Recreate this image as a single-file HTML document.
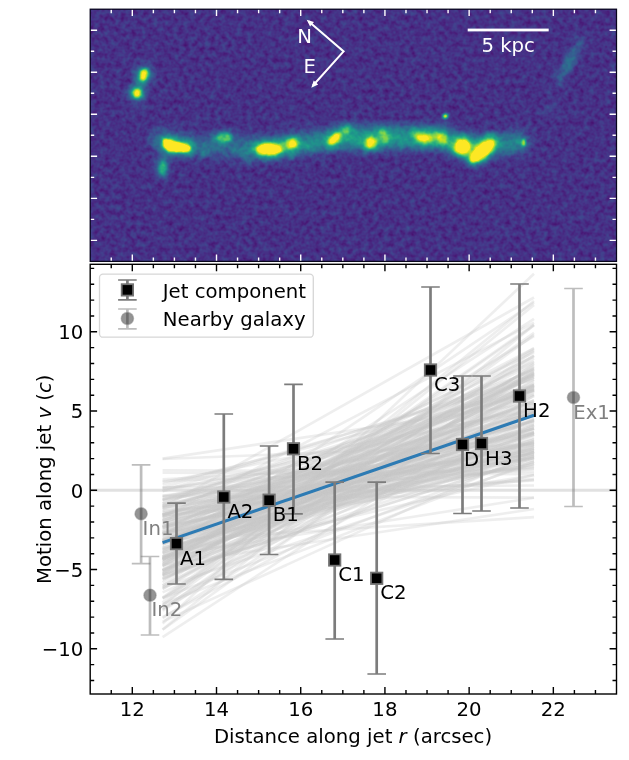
<!DOCTYPE html>
<html><head><meta charset="utf-8"><title>Jet motion</title>
<style>html,body{margin:0;padding:0;background:#fff}svg{display:block}text{font-family:"DejaVu Sans","Liberation Sans",sans-serif}</style></head>
<body>
<svg width="629" height="760" viewBox="0 0 629 760" font-size="19.7">
<rect width="629" height="760" fill="#fff"/>
<defs>
<filter id="cmap" x="0" y="0" width="100%" height="100%" filterUnits="objectBoundingBox" color-interpolation-filters="sRGB">
<feTurbulence type="fractalNoise" baseFrequency="0.19" numOctaves="2" seed="7" result="t"/>
<feColorMatrix in="t" type="matrix" values="1 0 0 0 0  1 0 0 0 0  1 0 0 0 0  0 0 0 0 1" result="n"/>
<feComposite in="SourceGraphic" in2="n" operator="arithmetic" k1="0" k2="1" k3="0.24" k4="0.02" result="s"/>
<feComponentTransfer in="s"><feFuncR type="table" tableValues="0.267 0.277 0.282 0.283 0.279 0.271 0.259 0.245 0.230 0.214 0.199 0.186 0.173 0.161 0.149 0.138 0.128 0.121 0.121 0.132 0.158 0.197 0.246 0.304 0.369 0.440 0.516 0.596 0.678 0.762 0.846 0.926 0.993"/><feFuncG type="table" tableValues="0.005 0.050 0.095 0.136 0.175 0.214 0.252 0.288 0.322 0.356 0.388 0.419 0.449 0.479 0.508 0.537 0.567 0.596 0.626 0.655 0.684 0.712 0.739 0.765 0.789 0.811 0.831 0.849 0.864 0.876 0.887 0.897 0.906"/><feFuncB type="table" tableValues="0.380 0.423 0.460 0.492 0.518 0.538 0.552 0.560 0.565 0.566 0.566 0.564 0.561 0.558 0.557 0.555 0.551 0.544 0.533 0.520 0.502 0.479 0.452 0.420 0.383 0.341 0.294 0.243 0.190 0.137 0.100 0.104 0.144"/><feFuncA type="linear" slope="0" intercept="1"/></feComponentTransfer>
</filter>
<filter id="b1" filterUnits="userSpaceOnUse" x="60" y="0" width="580" height="280" color-interpolation-filters="sRGB"><feGaussianBlur stdDeviation="1"/></filter>
<filter id="b1_5" filterUnits="userSpaceOnUse" x="60" y="0" width="580" height="280" color-interpolation-filters="sRGB"><feGaussianBlur stdDeviation="1.5"/></filter>
<filter id="b2" filterUnits="userSpaceOnUse" x="60" y="0" width="580" height="280" color-interpolation-filters="sRGB"><feGaussianBlur stdDeviation="2"/></filter>
<filter id="b3" filterUnits="userSpaceOnUse" x="60" y="0" width="580" height="280" color-interpolation-filters="sRGB"><feGaussianBlur stdDeviation="3"/></filter>
<filter id="b4" filterUnits="userSpaceOnUse" x="60" y="0" width="580" height="280" color-interpolation-filters="sRGB"><feGaussianBlur stdDeviation="4"/></filter>
<filter id="b6" filterUnits="userSpaceOnUse" x="60" y="0" width="580" height="280" color-interpolation-filters="sRGB"><feGaussianBlur stdDeviation="6"/></filter>
<filter id="b8" filterUnits="userSpaceOnUse" x="60" y="0" width="580" height="280" color-interpolation-filters="sRGB"><feGaussianBlur stdDeviation="8"/></filter>
<clipPath id="imclip"><rect x="90.2" y="9.2" width="526.3" height="252.2"/></clipPath>
<clipPath id="plclip"><rect x="90.2" y="264.3" width="526.3" height="429.7"/></clipPath>
</defs>
<g clip-path="url(#imclip)">
<g filter="url(#cmap)">
<rect x="88.2" y="7.199999999999999" width="530.3" height="256.2" fill="#000"/>
<g filter="url(#b6)">
<path d="M160 141 L200 146 L260 148 L300 143 L340 138 L380 137 L430 137 L470 145 L490 145 L522 142" fill="none" stroke="#fff" stroke-opacity="0.10" stroke-width="24" stroke-linecap="round" stroke-linejoin="round"/>
</g>
<g filter="url(#b4)" fill="none" stroke="#fff" stroke-linejoin="round">
<path d="M152 136 L166 141 L200 146 L250 148" stroke-opacity="0.10" stroke-width="15"/>
<path d="M246 148 L270 149 L300 144 L340 139 L356 139" stroke-opacity="0.24" stroke-width="17"/>
<path d="M350 139 L380 139 L430 138 L462 144" stroke-opacity="0.27" stroke-width="19"/>
<path d="M350 129 L400 131 L445 130" stroke-opacity="0.1" stroke-width="10" stroke-linecap="round"/>
<path d="M458 146 L490 145 L524 142" stroke-opacity="0.26" stroke-width="16"/>
</g><g filter="url(#b3)">
<path d="M581 40 L568.7 63.4 L558 82" fill="none" stroke="#fff" stroke-opacity="0.15" stroke-width="8" stroke-linecap="round"/>
<path d="M573 54 L565 71" fill="none" stroke="#fff" stroke-opacity="0.2" stroke-width="6" stroke-linecap="round"/>
</g><g filter="url(#b4)">
<ellipse cx="550.6" cy="109" rx="7" ry="4" fill="#fff" fill-opacity="0.11" transform="rotate(-60 550.6 109)"/>
<ellipse cx="497" cy="226" rx="3" ry="8" fill="#fff" fill-opacity="0.035"/>
<ellipse cx="139.5" cy="85" rx="12" ry="4" fill="#fff" fill-opacity="0.12" transform="rotate(-70 139.5 85)"/>
<ellipse cx="135" cy="104" rx="7" ry="4" fill="#fff" fill-opacity="0.08" transform="rotate(80 135 104)"/>
<ellipse cx="164" cy="160" rx="7" ry="4" fill="#fff" fill-opacity="0.1" transform="rotate(80 164 160)"/>
</g>
<g filter="url(#b2)">
<ellipse cx="203.1" cy="154.3" rx="4.3" ry="2.1" fill="#fff" fill-opacity="0.19" transform="rotate(-28 203.1 154.3)"/>
<ellipse cx="181.8" cy="143.0" rx="5.3" ry="3.2" fill="#fff" fill-opacity="0.14" transform="rotate(-10 181.8 143.0)"/>
<ellipse cx="398.6" cy="137.8" rx="2.9" ry="3.6" fill="#fff" fill-opacity="0.14" transform="rotate(13 398.6 137.8)"/>
<ellipse cx="454.9" cy="147.1" rx="5.4" ry="2.4" fill="#fff" fill-opacity="0.13" transform="rotate(4 454.9 147.1)"/>
<ellipse cx="285.3" cy="141.0" rx="3.2" ry="3.6" fill="#fff" fill-opacity="0.09" transform="rotate(29 285.3 141.0)"/>
<ellipse cx="326.9" cy="139.2" rx="2.7" ry="3.8" fill="#fff" fill-opacity="0.09" transform="rotate(-5 326.9 139.2)"/>
<ellipse cx="402.5" cy="144.8" rx="5.2" ry="2.4" fill="#fff" fill-opacity="0.1" transform="rotate(-37 402.5 144.8)"/>
<ellipse cx="282.5" cy="138.5" rx="5.2" ry="3.4" fill="#fff" fill-opacity="0.07" transform="rotate(-12 282.5 138.5)"/>
<ellipse cx="214.5" cy="142.3" rx="3.9" ry="3.4" fill="#fff" fill-opacity="0.07" transform="rotate(-35 214.5 142.3)"/>
<ellipse cx="465.6" cy="137.1" rx="3.4" ry="2.6" fill="#fff" fill-opacity="0.09" transform="rotate(-32 465.6 137.1)"/>
<ellipse cx="165.0" cy="145.3" rx="3.9" ry="2.3" fill="#fff" fill-opacity="0.1" transform="rotate(19 165.0 145.3)"/>
<ellipse cx="178.7" cy="146.5" rx="5.2" ry="2.1" fill="#fff" fill-opacity="0.09" transform="rotate(24 178.7 146.5)"/>
<ellipse cx="190.0" cy="143.5" rx="3.4" ry="3.5" fill="#fff" fill-opacity="0.18"/>
<ellipse cx="235.5" cy="150.6" rx="3.3" ry="4.0" fill="#fff" fill-opacity="0.11" transform="rotate(35 235.5 150.6)"/>
<ellipse cx="315.6" cy="149.9" rx="4.7" ry="2.1" fill="#fff" fill-opacity="0.12" transform="rotate(-34 315.6 149.9)"/>
<ellipse cx="245.7" cy="160.4" rx="4.7" ry="3.1" fill="#fff" fill-opacity="0.16" transform="rotate(12 245.7 160.4)"/>
<ellipse cx="441.9" cy="135.9" rx="2.9" ry="3.3" fill="#fff" fill-opacity="0.13" transform="rotate(-28 441.9 135.9)"/>
<ellipse cx="443.8" cy="142.6" rx="4.8" ry="2.1" fill="#fff" fill-opacity="0.09" transform="rotate(-11 443.8 142.6)"/>
<ellipse cx="521.6" cy="141.1" rx="3.2" ry="2.7" fill="#fff" fill-opacity="0.18" transform="rotate(-35 521.6 141.1)"/>
<ellipse cx="388.9" cy="136.1" rx="4.0" ry="2.2" fill="#fff" fill-opacity="0.1" transform="rotate(8 388.9 136.1)"/>
<ellipse cx="170.1" cy="145.2" rx="4.2" ry="3.3" fill="#fff" fill-opacity="0.15" transform="rotate(-14 170.1 145.2)"/>
<ellipse cx="284.9" cy="146.0" rx="3.4" ry="2.8" fill="#fff" fill-opacity="0.09" transform="rotate(33 284.9 146.0)"/>
<ellipse cx="187.5" cy="148.9" rx="5.4" ry="3.8" fill="#fff" fill-opacity="0.08" transform="rotate(16 187.5 148.9)"/>
<ellipse cx="451.1" cy="148.3" rx="2.9" ry="2.9" fill="#fff" fill-opacity="0.17" transform="rotate(-36 451.1 148.3)"/>
<ellipse cx="419.0" cy="134.9" rx="4.8" ry="2.5" fill="#fff" fill-opacity="0.1" transform="rotate(23 419.0 134.9)"/>
<ellipse cx="206.5" cy="147.7" rx="4.0" ry="2.6" fill="#fff" fill-opacity="0.15" transform="rotate(8 206.5 147.7)"/>
<ellipse cx="243.8" cy="152.7" rx="3.6" ry="3.5" fill="#fff" fill-opacity="0.17" transform="rotate(-16 243.8 152.7)"/>
<ellipse cx="307.9" cy="146.4" rx="4.5" ry="3.0" fill="#fff" fill-opacity="0.2" transform="rotate(-19 307.9 146.4)"/>
<ellipse cx="191.2" cy="151.5" rx="4.1" ry="2.1" fill="#fff" fill-opacity="0.17" transform="rotate(-27 191.2 151.5)"/>
<ellipse cx="442.9" cy="142.4" rx="5.2" ry="3.5" fill="#fff" fill-opacity="0.15" transform="rotate(-16 442.9 142.4)"/>
<ellipse cx="280.5" cy="148.8" rx="5.1" ry="3.4" fill="#fff" fill-opacity="0.14" transform="rotate(19 280.5 148.8)"/>
<ellipse cx="442.6" cy="136.1" rx="4.2" ry="2.1" fill="#fff" fill-opacity="0.18" transform="rotate(4 442.6 136.1)"/>
<ellipse cx="414.2" cy="133.2" rx="4.0" ry="3.8" fill="#fff" fill-opacity="0.18" transform="rotate(-31 414.2 133.2)"/>
<ellipse cx="291.9" cy="155.8" rx="4.4" ry="2.9" fill="#fff" fill-opacity="0.18" transform="rotate(-5 291.9 155.8)"/>
<ellipse cx="206.4" cy="152.3" rx="3.7" ry="3.1" fill="#fff" fill-opacity="0.09"/>
<ellipse cx="343.4" cy="141.0" rx="2.5" ry="2.1" fill="#fff" fill-opacity="0.2" transform="rotate(-3 343.4 141.0)"/>
<ellipse cx="172.2" cy="135.4" rx="4.1" ry="2.2" fill="#fff" fill-opacity="0.1" transform="rotate(-6 172.2 135.4)"/>
<ellipse cx="417.4" cy="135.5" rx="3.4" ry="2.5" fill="#fff" fill-opacity="0.17" transform="rotate(29 417.4 135.5)"/>
<ellipse cx="315.6" cy="137.9" rx="4.7" ry="3.9" fill="#fff" fill-opacity="0.09" transform="rotate(-33 315.6 137.9)"/>
<ellipse cx="288.6" cy="145.3" rx="2.7" ry="2.1" fill="#fff" fill-opacity="0.12" transform="rotate(-22 288.6 145.3)"/>
<ellipse cx="426.6" cy="135.5" rx="2.6" ry="2.1" fill="#fff" fill-opacity="0.18" transform="rotate(-3 426.6 135.5)"/>
<ellipse cx="490.9" cy="136.1" rx="5.2" ry="3.9" fill="#fff" fill-opacity="0.17" transform="rotate(-7 490.9 136.1)"/>
<ellipse cx="289.7" cy="142.8" rx="4.2" ry="2.2" fill="#fff" fill-opacity="0.18" transform="rotate(13 289.7 142.8)"/>
<ellipse cx="491.0" cy="149.3" rx="2.9" ry="3.8" fill="#fff" fill-opacity="0.2" transform="rotate(29 491.0 149.3)"/>
<ellipse cx="373.4" cy="142.6" rx="3.6" ry="2.4" fill="#fff" fill-opacity="0.16" transform="rotate(-16 373.4 142.6)"/>
<ellipse cx="274.9" cy="150.2" rx="4.0" ry="2.9" fill="#fff" fill-opacity="0.09" transform="rotate(37 274.9 150.2)"/>
</g>
<g filter="url(#b3)">
<ellipse cx="143.6" cy="75" rx="10.0" ry="8.0" fill="#fff" fill-opacity="0.36" transform="rotate(-68 143.6 75)"/>
<ellipse cx="137" cy="93" rx="8.4" ry="8.2" fill="#fff" fill-opacity="0.36"/>
<ellipse cx="162.5" cy="168" rx="11" ry="7.3" fill="#fff" fill-opacity="0.195" transform="rotate(88 162.5 168)"/>
<ellipse cx="224" cy="137.7" rx="11.5" ry="7.8" fill="#fff" fill-opacity="0.22499999999999998"/>
<ellipse cx="269" cy="149.2" rx="16.4" ry="9.1" fill="#fff" fill-opacity="0.44999999999999996"/>
<ellipse cx="292.5" cy="144" rx="9.8" ry="8.6" fill="#fff" fill-opacity="0.315" transform="rotate(-25 292.5 144)"/>
<ellipse cx="334.5" cy="139" rx="11.5" ry="8.2" fill="#fff" fill-opacity="0.33" transform="rotate(-42 334.5 139)"/>
<ellipse cx="346" cy="129.7" rx="7.4" ry="7.2" fill="#fff" fill-opacity="0.22499999999999998"/>
<ellipse cx="370.5" cy="143" rx="9.6" ry="8.8" fill="#fff" fill-opacity="0.33" transform="rotate(-35 370.5 143)"/>
<ellipse cx="384.8" cy="139.1" rx="7.6" ry="7.3" fill="#fff" fill-opacity="0.18"/>
<ellipse cx="383" cy="132.4" rx="7.2" ry="7" fill="#fff" fill-opacity="0.165"/>
<ellipse cx="424" cy="138.2" rx="12.5" ry="8.3" fill="#fff" fill-opacity="0.3" transform="rotate(5 424 138.2)"/>
<ellipse cx="437.3" cy="135.6" rx="8" ry="7.2" fill="#fff" fill-opacity="0.18"/>
<ellipse cx="443" cy="139.2" rx="8.8" ry="7.6" fill="#fff" fill-opacity="0.216"/>
<ellipse cx="462.4" cy="146.8" rx="11.0" ry="11.0" fill="#fff" fill-opacity="0.48"/>
<ellipse cx="482" cy="151" rx="19.3" ry="10.0" fill="#fff" fill-opacity="0.48" transform="rotate(-42 482 151)"/>
<path d="M164.5 139.8L189 146.6L189.6 149L186.5 151L168 150.2L164.2 145Z" fill="#fff" stroke="#fff" stroke-width="9" stroke-linejoin="round" opacity="0.4"/>
</g>
<g filter="url(#b1_5)">
<ellipse cx="143.6" cy="75" rx="6.6" ry="4.6" fill="#fff" fill-opacity="0.66" transform="rotate(-68 143.6 75)"/>
<ellipse cx="137" cy="93" rx="5.0" ry="4.800000000000001" fill="#fff" fill-opacity="0.66"/>
<ellipse cx="162.5" cy="168" rx="7.6" ry="3.9" fill="#fff" fill-opacity="0.35750000000000004" transform="rotate(88 162.5 168)"/>
<ellipse cx="224" cy="137.7" rx="8.1" ry="4.4" fill="#fff" fill-opacity="0.41250000000000003"/>
<ellipse cx="269" cy="149.2" rx="13.0" ry="5.699999999999999" fill="#fff" fill-opacity="0.8250000000000001"/>
<ellipse cx="292.5" cy="144" rx="6.4" ry="5.2" fill="#fff" fill-opacity="0.5775000000000001" transform="rotate(-25 292.5 144)"/>
<ellipse cx="334.5" cy="139" rx="8.1" ry="4.800000000000001" fill="#fff" fill-opacity="0.6050000000000001" transform="rotate(-42 334.5 139)"/>
<ellipse cx="346" cy="129.7" rx="4.0" ry="3.8000000000000003" fill="#fff" fill-opacity="0.41250000000000003"/>
<ellipse cx="370.5" cy="143" rx="6.199999999999999" ry="5.4" fill="#fff" fill-opacity="0.6050000000000001" transform="rotate(-35 370.5 143)"/>
<ellipse cx="384.8" cy="139.1" rx="4.2" ry="3.9" fill="#fff" fill-opacity="0.33"/>
<ellipse cx="383" cy="132.4" rx="3.8000000000000003" ry="3.6" fill="#fff" fill-opacity="0.30250000000000005"/>
<ellipse cx="424" cy="138.2" rx="9.1" ry="4.9" fill="#fff" fill-opacity="0.55" transform="rotate(5 424 138.2)"/>
<ellipse cx="437.3" cy="135.6" rx="4.6" ry="3.8000000000000003" fill="#fff" fill-opacity="0.33"/>
<ellipse cx="443" cy="139.2" rx="5.4" ry="4.2" fill="#fff" fill-opacity="0.396"/>
<ellipse cx="462.4" cy="146.8" rx="7.6" ry="7.6" fill="#fff" fill-opacity="0.8800000000000001"/>
<ellipse cx="482" cy="151" rx="15.9" ry="6.6" fill="#fff" fill-opacity="0.8800000000000001" transform="rotate(-42 482 151)"/>
<ellipse cx="445.4" cy="116.2" rx="3.4" ry="3.4" fill="#fff" fill-opacity="0.16"/>
<ellipse cx="523.5" cy="142.4" rx="3" ry="5" fill="#fff" fill-opacity="0.15"/>
<path d="M164.5 139.8L189 146.6L189.6 149L186.5 151L168 150.2L164.2 145Z" fill="#fff" stroke="#fff" stroke-width="3" stroke-linejoin="round" opacity="0.7"/>
</g>
<g filter="url(#b1)">
<ellipse cx="143.6" cy="75" rx="3.8" ry="1.8" fill="#fff" fill-opacity="0.8999999999999999" transform="rotate(-68 143.6 75)"/>
<ellipse cx="137" cy="93" rx="2.2" ry="2.0" fill="#fff" fill-opacity="0.8999999999999999"/>
<ellipse cx="269" cy="149.2" rx="10.200000000000001" ry="2.8999999999999995" fill="#fff" fill-opacity="1"/>
<ellipse cx="292.5" cy="144" rx="3.5999999999999996" ry="2.4000000000000004" fill="#fff" fill-opacity="0.7875000000000001" transform="rotate(-25 292.5 144)"/>
<ellipse cx="334.5" cy="139" rx="5.3" ry="2.0" fill="#fff" fill-opacity="0.8250000000000001" transform="rotate(-42 334.5 139)"/>
<ellipse cx="370.5" cy="143" rx="3.3999999999999995" ry="2.5999999999999996" fill="#fff" fill-opacity="0.8250000000000001" transform="rotate(-35 370.5 143)"/>
<ellipse cx="424" cy="138.2" rx="6.3" ry="2.0999999999999996" fill="#fff" fill-opacity="0.75" transform="rotate(5 424 138.2)"/>
<ellipse cx="462.4" cy="146.8" rx="4.8" ry="4.8" fill="#fff" fill-opacity="1"/>
<ellipse cx="482" cy="151" rx="13.100000000000001" ry="3.8" fill="#fff" fill-opacity="1" transform="rotate(-42 482 151)"/>
<ellipse cx="445.4" cy="116.2" rx="2.3" ry="2.3" fill="#fff" fill-opacity="0.9"/>
<ellipse cx="523.5" cy="142.4" rx="1.7" ry="3.5" fill="#fff" fill-opacity="0.62"/>
<path d="M164.5 139.8L189 146.6L189.6 149L186.5 151L168 150.2L164.2 145Z" fill="#fff" stroke="#fff" stroke-width="0.5" stroke-linejoin="round"/>
</g>
</g>
</g>
<path d="M111.25 9.2v4.0M111.25 261.4v-4.0M132.30 9.2v6.9M132.30 261.4v-6.9M153.36 9.2v4.0M153.36 261.4v-4.0M174.41 9.2v4.0M174.41 261.4v-4.0M195.46 9.2v4.0M195.46 261.4v-4.0M216.51 9.2v6.9M216.51 261.4v-6.9M237.56 9.2v4.0M237.56 261.4v-4.0M258.62 9.2v4.0M258.62 261.4v-4.0M279.67 9.2v4.0M279.67 261.4v-4.0M300.72 9.2v6.9M300.72 261.4v-6.9M321.77 9.2v4.0M321.77 261.4v-4.0M342.82 9.2v4.0M342.82 261.4v-4.0M363.88 9.2v4.0M363.88 261.4v-4.0M384.93 9.2v6.9M384.93 261.4v-6.9M405.98 9.2v4.0M405.98 261.4v-4.0M427.03 9.2v4.0M427.03 261.4v-4.0M448.08 9.2v4.0M448.08 261.4v-4.0M469.14 9.2v6.9M469.14 261.4v-6.9M490.19 9.2v4.0M490.19 261.4v-4.0M511.24 9.2v4.0M511.24 261.4v-4.0M532.29 9.2v4.0M532.29 261.4v-4.0M553.34 9.2v6.9M553.34 261.4v-6.9M574.40 9.2v4.0M574.40 261.4v-4.0M595.45 9.2v4.0M595.45 261.4v-4.0M90.2 30.22h6.9M616.5 30.22h-6.9M90.2 51.23h4.0M616.5 51.23h-4.0M90.2 72.25h6.9M616.5 72.25h-6.9M90.2 93.27h4.0M616.5 93.27h-4.0M90.2 114.28h6.9M616.5 114.28h-6.9M90.2 135.30h4.0M616.5 135.30h-4.0M90.2 156.32h6.9M616.5 156.32h-6.9M90.2 177.33h4.0M616.5 177.33h-4.0M90.2 198.35h6.9M616.5 198.35h-6.9M90.2 219.37h4.0M616.5 219.37h-4.0M90.2 240.38h6.9M616.5 240.38h-6.9" stroke="#fff" stroke-width="1.4" fill="none"/>
<rect x="90.2" y="9.2" width="526.3" height="252.2" fill="none" stroke="#08061c" stroke-width="1.25"/>
<g stroke="#fff" stroke-width="2" fill="none" stroke-linejoin="miter"><path d="M308.5 21.3L343.6 51.4L313 85.5"/></g>
<path d="M306.7 19.8L314.0 22.1L310.1 26.6Z" fill="#fff"/>
<path d="M311.3 87.7L313.7 80.5L318.2 84.5Z" fill="#fff"/>
<text x="297.3" y="42.8" fill="#fff">N</text>
<text x="303.5" y="72.6" fill="#fff">E</text>
<rect x="467.7" y="28.6" width="81" height="2.8" fill="#fff"/>
<text x="508.2" y="52" fill="#fff" text-anchor="middle">5 kpc</text>
<g clip-path="url(#plclip)">
<line x1="90.2" x2="616.5" y1="490.30" y2="490.30" stroke="#808080" stroke-opacity="0.24" stroke-width="3.1"/>
<g stroke="#c6c6c6" stroke-opacity="0.3" stroke-width="2.6" fill="none">
<path d="M162.6 552.0L534.0 302.6"/>
<path d="M162.6 604.0L534.0 461.2"/>
<path d="M162.6 537.8L534.0 400.9"/>
<path d="M162.6 545.5L534.0 439.3"/>
<path d="M162.6 510.6L534.0 478.9"/>
<path d="M162.6 570.6L534.0 389.5"/>
<path d="M162.6 540.5L534.0 517.1"/>
<path d="M162.6 567.3L534.0 394.6"/>
<path d="M162.6 558.3L534.0 437.4"/>
<path d="M162.6 507.4L534.0 297.5"/>
<path d="M162.6 533.6L534.0 415.8"/>
<path d="M162.6 527.6L534.0 452.0"/>
<path d="M162.6 558.3L534.0 408.6"/>
<path d="M162.6 540.7L534.0 450.4"/>
<path d="M162.6 558.3L534.0 446.7"/>
<path d="M162.6 549.9L534.0 425.0"/>
<path d="M162.6 526.5L534.0 412.4"/>
<path d="M162.6 540.6L534.0 429.5"/>
<path d="M162.6 499.3L534.0 424.2"/>
<path d="M162.6 539.8L534.0 428.7"/>
<path d="M162.6 487.5L534.0 485.5"/>
<path d="M162.6 503.2L534.0 390.3"/>
<path d="M162.6 499.3L534.0 444.6"/>
<path d="M162.6 589.1L534.0 379.7"/>
<path d="M162.6 587.3L534.0 366.2"/>
<path d="M162.6 481.0L534.0 468.5"/>
<path d="M162.6 503.6L534.0 370.6"/>
<path d="M162.6 542.8L534.0 428.2"/>
<path d="M162.6 519.8L534.0 456.7"/>
<path d="M162.6 536.8L534.0 373.5"/>
<path d="M162.6 547.8L534.0 452.0"/>
<path d="M162.6 503.3L534.0 480.5"/>
<path d="M162.6 514.7L534.0 408.0"/>
<path d="M162.6 524.1L534.0 410.7"/>
<path d="M162.6 541.8L534.0 411.8"/>
<path d="M162.6 495.8L534.0 443.0"/>
<path d="M162.6 621.6L534.0 451.8"/>
<path d="M162.6 543.3L534.0 364.1"/>
<path d="M162.6 532.7L534.0 475.2"/>
<path d="M162.6 559.8L534.0 475.0"/>
<path d="M162.6 532.2L534.0 415.1"/>
<path d="M162.6 511.3L534.0 421.3"/>
<path d="M162.6 609.0L534.0 350.9"/>
<path d="M162.6 570.2L534.0 432.3"/>
<path d="M162.6 514.9L534.0 449.8"/>
<path d="M162.6 522.0L534.0 444.5"/>
<path d="M162.6 508.6L534.0 390.2"/>
<path d="M162.6 602.4L534.0 301.0"/>
<path d="M162.6 531.6L534.0 419.9"/>
<path d="M162.6 520.6L534.0 389.0"/>
<path d="M162.6 562.0L534.0 400.1"/>
<path d="M162.6 558.9L534.0 439.5"/>
<path d="M162.6 605.3L534.0 305.1"/>
<path d="M162.6 514.7L534.0 422.8"/>
<path d="M162.6 570.1L534.0 390.1"/>
<path d="M162.6 562.3L534.0 428.1"/>
<path d="M162.6 556.4L534.0 386.1"/>
<path d="M162.6 564.8L534.0 509.0"/>
<path d="M162.6 585.6L534.0 325.5"/>
<path d="M162.6 526.6L534.0 411.8"/>
<path d="M162.6 576.3L534.0 452.0"/>
<path d="M162.6 516.0L534.0 446.7"/>
<path d="M162.6 543.0L534.0 462.1"/>
<path d="M162.6 543.1L534.0 377.3"/>
<path d="M162.6 617.2L534.0 418.4"/>
<path d="M162.6 585.3L534.0 404.7"/>
<path d="M162.6 566.1L534.0 349.8"/>
<path d="M162.6 539.7L534.0 362.1"/>
<path d="M162.6 587.2L534.0 463.4"/>
<path d="M162.6 579.3L534.0 392.1"/>
<path d="M162.6 553.3L534.0 385.2"/>
<path d="M162.6 550.7L534.0 434.7"/>
<path d="M162.6 530.8L534.0 352.3"/>
<path d="M162.6 609.4L534.0 387.1"/>
<path d="M162.6 540.5L534.0 400.5"/>
<path d="M162.6 553.9L534.0 452.1"/>
<path d="M162.6 534.5L534.0 356.6"/>
<path d="M162.6 605.3L534.0 334.9"/>
<path d="M162.6 542.9L534.0 433.1"/>
<path d="M162.6 574.6L534.0 458.1"/>
<path d="M162.6 500.8L534.0 386.8"/>
<path d="M162.6 565.7L534.0 348.3"/>
<path d="M162.6 479.2L534.0 460.3"/>
<path d="M162.6 528.2L534.0 377.9"/>
<path d="M162.6 573.3L534.0 358.3"/>
<path d="M162.6 534.0L534.0 457.8"/>
<path d="M162.6 608.0L534.0 369.7"/>
<path d="M162.6 575.5L534.0 411.9"/>
<path d="M162.6 497.4L534.0 406.5"/>
<path d="M162.6 578.3L534.0 440.7"/>
<path d="M162.6 515.5L534.0 479.7"/>
<path d="M162.6 533.2L534.0 443.2"/>
<path d="M162.6 597.6L534.0 332.9"/>
<path d="M162.6 506.0L534.0 434.4"/>
<path d="M162.6 629.7L534.0 363.6"/>
<path d="M162.6 575.1L534.0 458.0"/>
<path d="M162.6 574.1L534.0 374.6"/>
<path d="M162.6 515.6L534.0 390.5"/>
<path d="M162.6 470.3L534.0 471.7"/>
<path d="M162.6 521.5L534.0 431.9"/>
<path d="M162.6 553.3L534.0 416.8"/>
<path d="M162.6 505.8L534.0 448.5"/>
<path d="M162.6 512.5L534.0 466.2"/>
<path d="M162.6 535.1L534.0 384.8"/>
<path d="M162.6 541.3L534.0 456.0"/>
<path d="M162.6 495.9L534.0 469.1"/>
<path d="M162.6 525.8L534.0 442.4"/>
<path d="M162.6 557.8L534.0 368.8"/>
<path d="M162.6 523.7L534.0 428.6"/>
<path d="M162.6 517.4L534.0 322.6"/>
<path d="M162.6 560.1L534.0 318.9"/>
<path d="M162.6 509.2L534.0 385.0"/>
<path d="M162.6 556.2L534.0 497.8"/>
<path d="M162.6 515.7L534.0 466.8"/>
<path d="M162.6 552.5L534.0 432.3"/>
<path d="M162.6 558.7L534.0 368.1"/>
<path d="M162.6 598.0L534.0 455.3"/>
<path d="M162.6 533.6L534.0 369.1"/>
<path d="M162.6 506.5L534.0 409.6"/>
<path d="M162.6 578.2L534.0 433.0"/>
<path d="M162.6 549.6L534.0 454.3"/>
<path d="M162.6 549.3L534.0 445.9"/>
<path d="M162.6 507.7L534.0 458.3"/>
<path d="M162.6 488.1L534.0 454.4"/>
<path d="M162.6 484.5L534.0 389.8"/>
<path d="M162.6 517.3L534.0 457.6"/>
<path d="M162.6 500.3L534.0 432.3"/>
<path d="M162.6 559.6L534.0 385.5"/>
<path d="M162.6 499.8L534.0 384.2"/>
<path d="M162.6 623.5L534.0 273.7"/>
<path d="M162.6 542.4L534.0 348.2"/>
<path d="M162.6 547.7L534.0 461.5"/>
<path d="M162.6 570.7L534.0 388.2"/>
<path d="M162.6 569.7L534.0 420.1"/>
<path d="M162.6 491.2L534.0 407.9"/>
<path d="M162.6 563.6L534.0 355.6"/>
<path d="M162.6 527.7L534.0 449.5"/>
<path d="M162.6 496.2L534.0 497.6"/>
<path d="M162.6 556.8L534.0 373.0"/>
<path d="M162.6 540.1L534.0 453.0"/>
<path d="M162.6 610.7L534.0 372.7"/>
<path d="M162.6 514.0L534.0 428.7"/>
<path d="M162.6 458.6L534.0 403.0"/>
<path d="M162.6 598.1L534.0 355.3"/>
<path d="M162.6 525.8L534.0 464.3"/>
<path d="M162.6 572.1L534.0 434.5"/>
<path d="M162.6 618.1L534.0 382.9"/>
<path d="M162.6 532.8L534.0 402.2"/>
<path d="M162.6 519.9L534.0 402.8"/>
<path d="M162.6 543.4L534.0 413.7"/>
<path d="M162.6 561.6L534.0 374.2"/>
<path d="M162.6 518.0L534.0 441.4"/>
<path d="M162.6 557.9L534.0 388.5"/>
<path d="M162.6 592.4L534.0 425.6"/>
<path d="M162.6 629.4L534.0 325.1"/>
<path d="M162.6 529.5L534.0 426.7"/>
<path d="M162.6 534.6L534.0 464.1"/>
<path d="M162.6 575.4L534.0 396.1"/>
<path d="M162.6 547.9L534.0 448.5"/>
<path d="M162.6 557.1L534.0 412.8"/>
<path d="M162.6 526.4L534.0 394.3"/>
<path d="M162.6 588.6L534.0 375.5"/>
<path d="M162.6 527.4L534.0 442.5"/>
<path d="M162.6 520.4L534.0 403.9"/>
<path d="M162.6 472.7L534.0 474.1"/>
<path d="M162.6 482.1L534.0 410.3"/>
<path d="M162.6 637.2L534.0 395.3"/>
<path d="M162.6 505.2L534.0 421.6"/>
<path d="M162.6 533.3L534.0 450.9"/>
<path d="M162.6 507.6L534.0 454.0"/>
<path d="M162.6 541.9L534.0 374.9"/>
<path d="M162.6 523.0L534.0 387.4"/>
<path d="M162.6 488.9L534.0 433.7"/>
<path d="M162.6 559.5L534.0 385.6"/>
<path d="M162.6 514.5L534.0 372.5"/>
<path d="M162.6 571.8L534.0 391.2"/>
<path d="M162.6 527.5L534.0 441.7"/>
<path d="M162.6 582.2L534.0 324.5"/>
<path d="M162.6 565.9L534.0 412.1"/>
<path d="M162.6 491.0L534.0 375.9"/>
<path d="M162.6 505.6L534.0 413.0"/>
<path d="M162.6 487.6L534.0 379.6"/>
<path d="M162.6 569.9L534.0 381.1"/>
<path d="M162.6 541.7L534.0 435.1"/>
<path d="M162.6 573.3L534.0 367.2"/>
<path d="M162.6 544.2L534.0 377.1"/>
<path d="M162.6 598.6L534.0 371.5"/>
<path d="M162.6 559.7L534.0 374.3"/>
<path d="M162.6 538.9L534.0 420.8"/>
<path d="M162.6 459.0L534.0 444.2"/>
<path d="M162.6 564.4L534.0 419.4"/>
<path d="M162.6 544.6L534.0 361.2"/>
<path d="M162.6 559.4L534.0 425.0"/>
<path d="M162.6 579.6L534.0 414.4"/>
<path d="M162.6 543.8L534.0 448.5"/>
<path d="M162.6 556.3L534.0 455.9"/>
<path d="M162.6 514.0L534.0 445.1"/>
<path d="M162.6 564.4L534.0 336.2"/>
<path d="M162.6 542.0L534.0 407.9"/>
<path d="M162.6 514.7L534.0 420.6"/>
</g>
<line x1="162.6" y1="542.6" x2="534.0" y2="415.2" stroke="#2d7bb4" stroke-width="3.1"/>
</g>
<g stroke="#7c7c7c" fill="none" opacity="0.5"><line x1="141.1" x2="141.1" y1="464.9" y2="563.7" stroke-width="2.7"/><path d="M131.8 464.9h18.6M131.8 563.7h18.6" stroke-width="1.7"/></g><circle cx="141.1" cy="513.8" r="6.1" fill="#000" fill-opacity="0.42" stroke="#808080" stroke-opacity="0.5" stroke-width="1.4"/>
<g stroke="#7c7c7c" fill="none" opacity="0.5"><line x1="150.0" x2="150.0" y1="556.5" y2="635.0" stroke-width="2.7"/><path d="M140.7 556.5h18.6M140.7 635.0h18.6" stroke-width="1.7"/></g><circle cx="150.0" cy="595.2" r="6.1" fill="#000" fill-opacity="0.42" stroke="#808080" stroke-opacity="0.5" stroke-width="1.4"/>
<g stroke="#7c7c7c" fill="none" opacity="0.5"><line x1="573.5" x2="573.5" y1="288.5" y2="506.5" stroke-width="2.7"/><path d="M564.2 288.5h18.6M564.2 506.5h18.6" stroke-width="1.7"/></g><circle cx="573.5" cy="397.5" r="6.1" fill="#000" fill-opacity="0.42" stroke="#808080" stroke-opacity="0.5" stroke-width="1.4"/>
<g stroke="#7c7c7c" fill="none"><line x1="176.5" x2="176.5" y1="503.1" y2="584.0" stroke-width="2.7"/><path d="M167.2 503.1h18.6M167.2 584.0h18.6" stroke-width="1.7"/></g>
<g stroke="#7c7c7c" fill="none"><line x1="223.8" x2="223.8" y1="414.0" y2="579.4" stroke-width="2.7"/><path d="M214.5 414.0h18.6M214.5 579.4h18.6" stroke-width="1.7"/></g>
<g stroke="#7c7c7c" fill="none"><line x1="269.1" x2="269.1" y1="446.0" y2="554.5" stroke-width="2.7"/><path d="M259.8 446.0h18.6M259.8 554.5h18.6" stroke-width="1.7"/></g>
<g stroke="#7c7c7c" fill="none"><line x1="293.5" x2="293.5" y1="384.4" y2="513.9" stroke-width="2.7"/><path d="M284.2 384.4h18.6M284.2 513.9h18.6" stroke-width="1.7"/></g>
<g stroke="#7c7c7c" fill="none"><line x1="334.7" x2="334.7" y1="482.1" y2="639.0" stroke-width="2.7"/><path d="M325.4 482.1h18.6M325.4 639.0h18.6" stroke-width="1.7"/></g>
<g stroke="#7c7c7c" fill="none"><line x1="376.7" x2="376.7" y1="482.1" y2="674.0" stroke-width="2.7"/><path d="M367.4 482.1h18.6M367.4 674.0h18.6" stroke-width="1.7"/></g>
<g stroke="#7c7c7c" fill="none"><line x1="430.5" x2="430.5" y1="287.0" y2="453.5" stroke-width="2.7"/><path d="M421.2 287.0h18.6M421.2 453.5h18.6" stroke-width="1.7"/></g>
<g stroke="#7c7c7c" fill="none"><line x1="462.5" x2="462.5" y1="376.0" y2="513.5" stroke-width="2.7"/><path d="M453.2 376.0h18.6M453.2 513.5h18.6" stroke-width="1.7"/></g>
<g stroke="#7c7c7c" fill="none"><line x1="481.5" x2="481.5" y1="376.0" y2="511.0" stroke-width="2.7"/><path d="M472.2 376.0h18.6M472.2 511.0h18.6" stroke-width="1.7"/></g>
<g stroke="#7c7c7c" fill="none"><line x1="519.5" x2="519.5" y1="284.0" y2="508.0" stroke-width="2.7"/><path d="M510.2 284.0h18.6M510.2 508.0h18.6" stroke-width="1.7"/></g>
<rect x="170.8" y="537.9" width="11.4" height="11.4" fill="#000" stroke="#737373" stroke-width="1.8"/>
<rect x="218.1" y="491.3" width="11.4" height="11.4" fill="#000" stroke="#737373" stroke-width="1.8"/>
<rect x="263.4" y="494.5" width="11.4" height="11.4" fill="#000" stroke="#737373" stroke-width="1.8"/>
<rect x="287.8" y="443.1" width="11.4" height="11.4" fill="#000" stroke="#737373" stroke-width="1.8"/>
<rect x="329.0" y="554.3" width="11.4" height="11.4" fill="#000" stroke="#737373" stroke-width="1.8"/>
<rect x="371.0" y="572.6" width="11.4" height="11.4" fill="#000" stroke="#737373" stroke-width="1.8"/>
<rect x="424.8" y="364.3" width="11.4" height="11.4" fill="#000" stroke="#737373" stroke-width="1.8"/>
<rect x="456.8" y="438.8" width="11.4" height="11.4" fill="#000" stroke="#737373" stroke-width="1.8"/>
<rect x="475.8" y="437.8" width="11.4" height="11.4" fill="#000" stroke="#737373" stroke-width="1.8"/>
<rect x="513.8" y="390.3" width="11.4" height="11.4" fill="#000" stroke="#737373" stroke-width="1.8"/>
<text x="180.1" y="564.6" fill="#000">A1</text>
<text x="227.4" y="518.0" fill="#000">A2</text>
<text x="272.7" y="521.2" fill="#000">B1</text>
<text x="297.1" y="469.8" fill="#000">B2</text>
<text x="338.3" y="581.0" fill="#000">C1</text>
<text x="380.3" y="599.3" fill="#000">C2</text>
<text x="434.1" y="391.0" fill="#000">C3</text>
<text x="464.0" y="465.5" fill="#000">D</text>
<text x="485.1" y="464.5" fill="#000">H3</text>
<text x="523.1" y="417.0" fill="#000">H2</text>
<text x="142.6" y="534.8" fill="#808080">In1</text>
<text x="151.5" y="616.2" fill="#808080">In2</text>
<text x="573.2" y="418.5" fill="#808080">Ex1</text>
<rect x="99.5" y="274.2" width="213.8" height="63" rx="3.5" fill="#fff" fill-opacity="0.8" stroke="#ccc" stroke-opacity="0.8" stroke-width="1.3"/>
<g stroke="#7c7c7c" fill="none"><line x1="127.4" x2="127.4" y1="280.0" y2="299.8" stroke-width="2.7"/><path d="M118.1 280.0h18.6M118.1 299.8h18.6" stroke-width="1.7"/></g>
<rect x="121.7" y="284.2" width="11.4" height="11.4" fill="#000" stroke="#737373" stroke-width="1.8"/>
<g stroke="#7c7c7c" fill="none" opacity="0.5"><line x1="127.4" x2="127.4" y1="309.0" y2="328.8" stroke-width="2.7"/><path d="M118.1 309.0h18.6M118.1 328.8h18.6" stroke-width="1.7"/></g><circle cx="127.4" cy="318.5" r="6.1" fill="#000" fill-opacity="0.42" stroke="#808080" stroke-opacity="0.5" stroke-width="1.4"/>
<text x="162.8" y="298.3" fill="#000">Jet component</text>
<text x="162.8" y="326.2" fill="#000">Nearby galaxy</text>
<path d="M111.25 264.3v4.0M111.25 694.0v-4.0M132.30 264.3v6.9M132.30 694.0v-6.9M153.36 264.3v4.0M153.36 694.0v-4.0M174.41 264.3v4.0M174.41 694.0v-4.0M195.46 264.3v4.0M195.46 694.0v-4.0M216.51 264.3v6.9M216.51 694.0v-6.9M237.56 264.3v4.0M237.56 694.0v-4.0M258.62 264.3v4.0M258.62 694.0v-4.0M279.67 264.3v4.0M279.67 694.0v-4.0M300.72 264.3v6.9M300.72 694.0v-6.9M321.77 264.3v4.0M321.77 694.0v-4.0M342.82 264.3v4.0M342.82 694.0v-4.0M363.88 264.3v4.0M363.88 694.0v-4.0M384.93 264.3v6.9M384.93 694.0v-6.9M405.98 264.3v4.0M405.98 694.0v-4.0M427.03 264.3v4.0M427.03 694.0v-4.0M448.08 264.3v4.0M448.08 694.0v-4.0M469.14 264.3v6.9M469.14 694.0v-6.9M490.19 264.3v4.0M490.19 694.0v-4.0M511.24 264.3v4.0M511.24 694.0v-4.0M532.29 264.3v4.0M532.29 694.0v-4.0M553.34 264.3v6.9M553.34 694.0v-6.9M574.40 264.3v4.0M574.40 694.0v-4.0M595.45 264.3v4.0M595.45 694.0v-4.0M90.2 680.52h4.0M616.5 680.52h-4.0M90.2 664.67h4.0M616.5 664.67h-4.0M90.2 648.82h6.9M616.5 648.82h-6.9M90.2 632.97h4.0M616.5 632.97h-4.0M90.2 617.12h4.0M616.5 617.12h-4.0M90.2 601.26h4.0M616.5 601.26h-4.0M90.2 585.41h4.0M616.5 585.41h-4.0M90.2 569.56h6.9M616.5 569.56h-6.9M90.2 553.71h4.0M616.5 553.71h-4.0M90.2 537.86h4.0M616.5 537.86h-4.0M90.2 522.00h4.0M616.5 522.00h-4.0M90.2 506.15h4.0M616.5 506.15h-4.0M90.2 490.30h6.9M616.5 490.30h-6.9M90.2 474.45h4.0M616.5 474.45h-4.0M90.2 458.60h4.0M616.5 458.60h-4.0M90.2 442.74h4.0M616.5 442.74h-4.0M90.2 426.89h4.0M616.5 426.89h-4.0M90.2 411.04h6.9M616.5 411.04h-6.9M90.2 395.19h4.0M616.5 395.19h-4.0M90.2 379.34h4.0M616.5 379.34h-4.0M90.2 363.48h4.0M616.5 363.48h-4.0M90.2 347.63h4.0M616.5 347.63h-4.0M90.2 331.78h6.9M616.5 331.78h-6.9M90.2 315.93h4.0M616.5 315.93h-4.0M90.2 300.08h4.0M616.5 300.08h-4.0M90.2 284.22h4.0M616.5 284.22h-4.0M90.2 268.37h4.0M616.5 268.37h-4.0" stroke="#000" stroke-width="1.4" fill="none"/>
<rect x="90.2" y="264.3" width="526.3" height="429.7" fill="none" stroke="#000" stroke-width="1.4"/>
<text x="132.3" y="716.1" text-anchor="middle" fill="#000">12</text>
<text x="216.5" y="716.1" text-anchor="middle" fill="#000">14</text>
<text x="300.7" y="716.1" text-anchor="middle" fill="#000">16</text>
<text x="384.9" y="716.1" text-anchor="middle" fill="#000">18</text>
<text x="469.1" y="716.1" text-anchor="middle" fill="#000">20</text>
<text x="553.3" y="716.1" text-anchor="middle" fill="#000">22</text>
<text x="83.3" y="656.1" text-anchor="end" fill="#000">−10</text>
<text x="83.3" y="576.9" text-anchor="end" fill="#000">−5</text>
<text x="83.3" y="497.6" text-anchor="end" fill="#000">0</text>
<text x="83.3" y="418.3" text-anchor="end" fill="#000">5</text>
<text x="83.3" y="339.1" text-anchor="end" fill="#000">10</text>
<text x="353" y="743.2" text-anchor="middle" fill="#000">Distance along jet <tspan font-style="italic">r</tspan> (arcsec)</text>
<text transform="translate(50.9 479.2) rotate(-90)" text-anchor="middle" fill="#000">Motion along jet <tspan font-style="italic">v</tspan> (<tspan font-style="italic">c</tspan>)</text>
</svg>
</body></html>
